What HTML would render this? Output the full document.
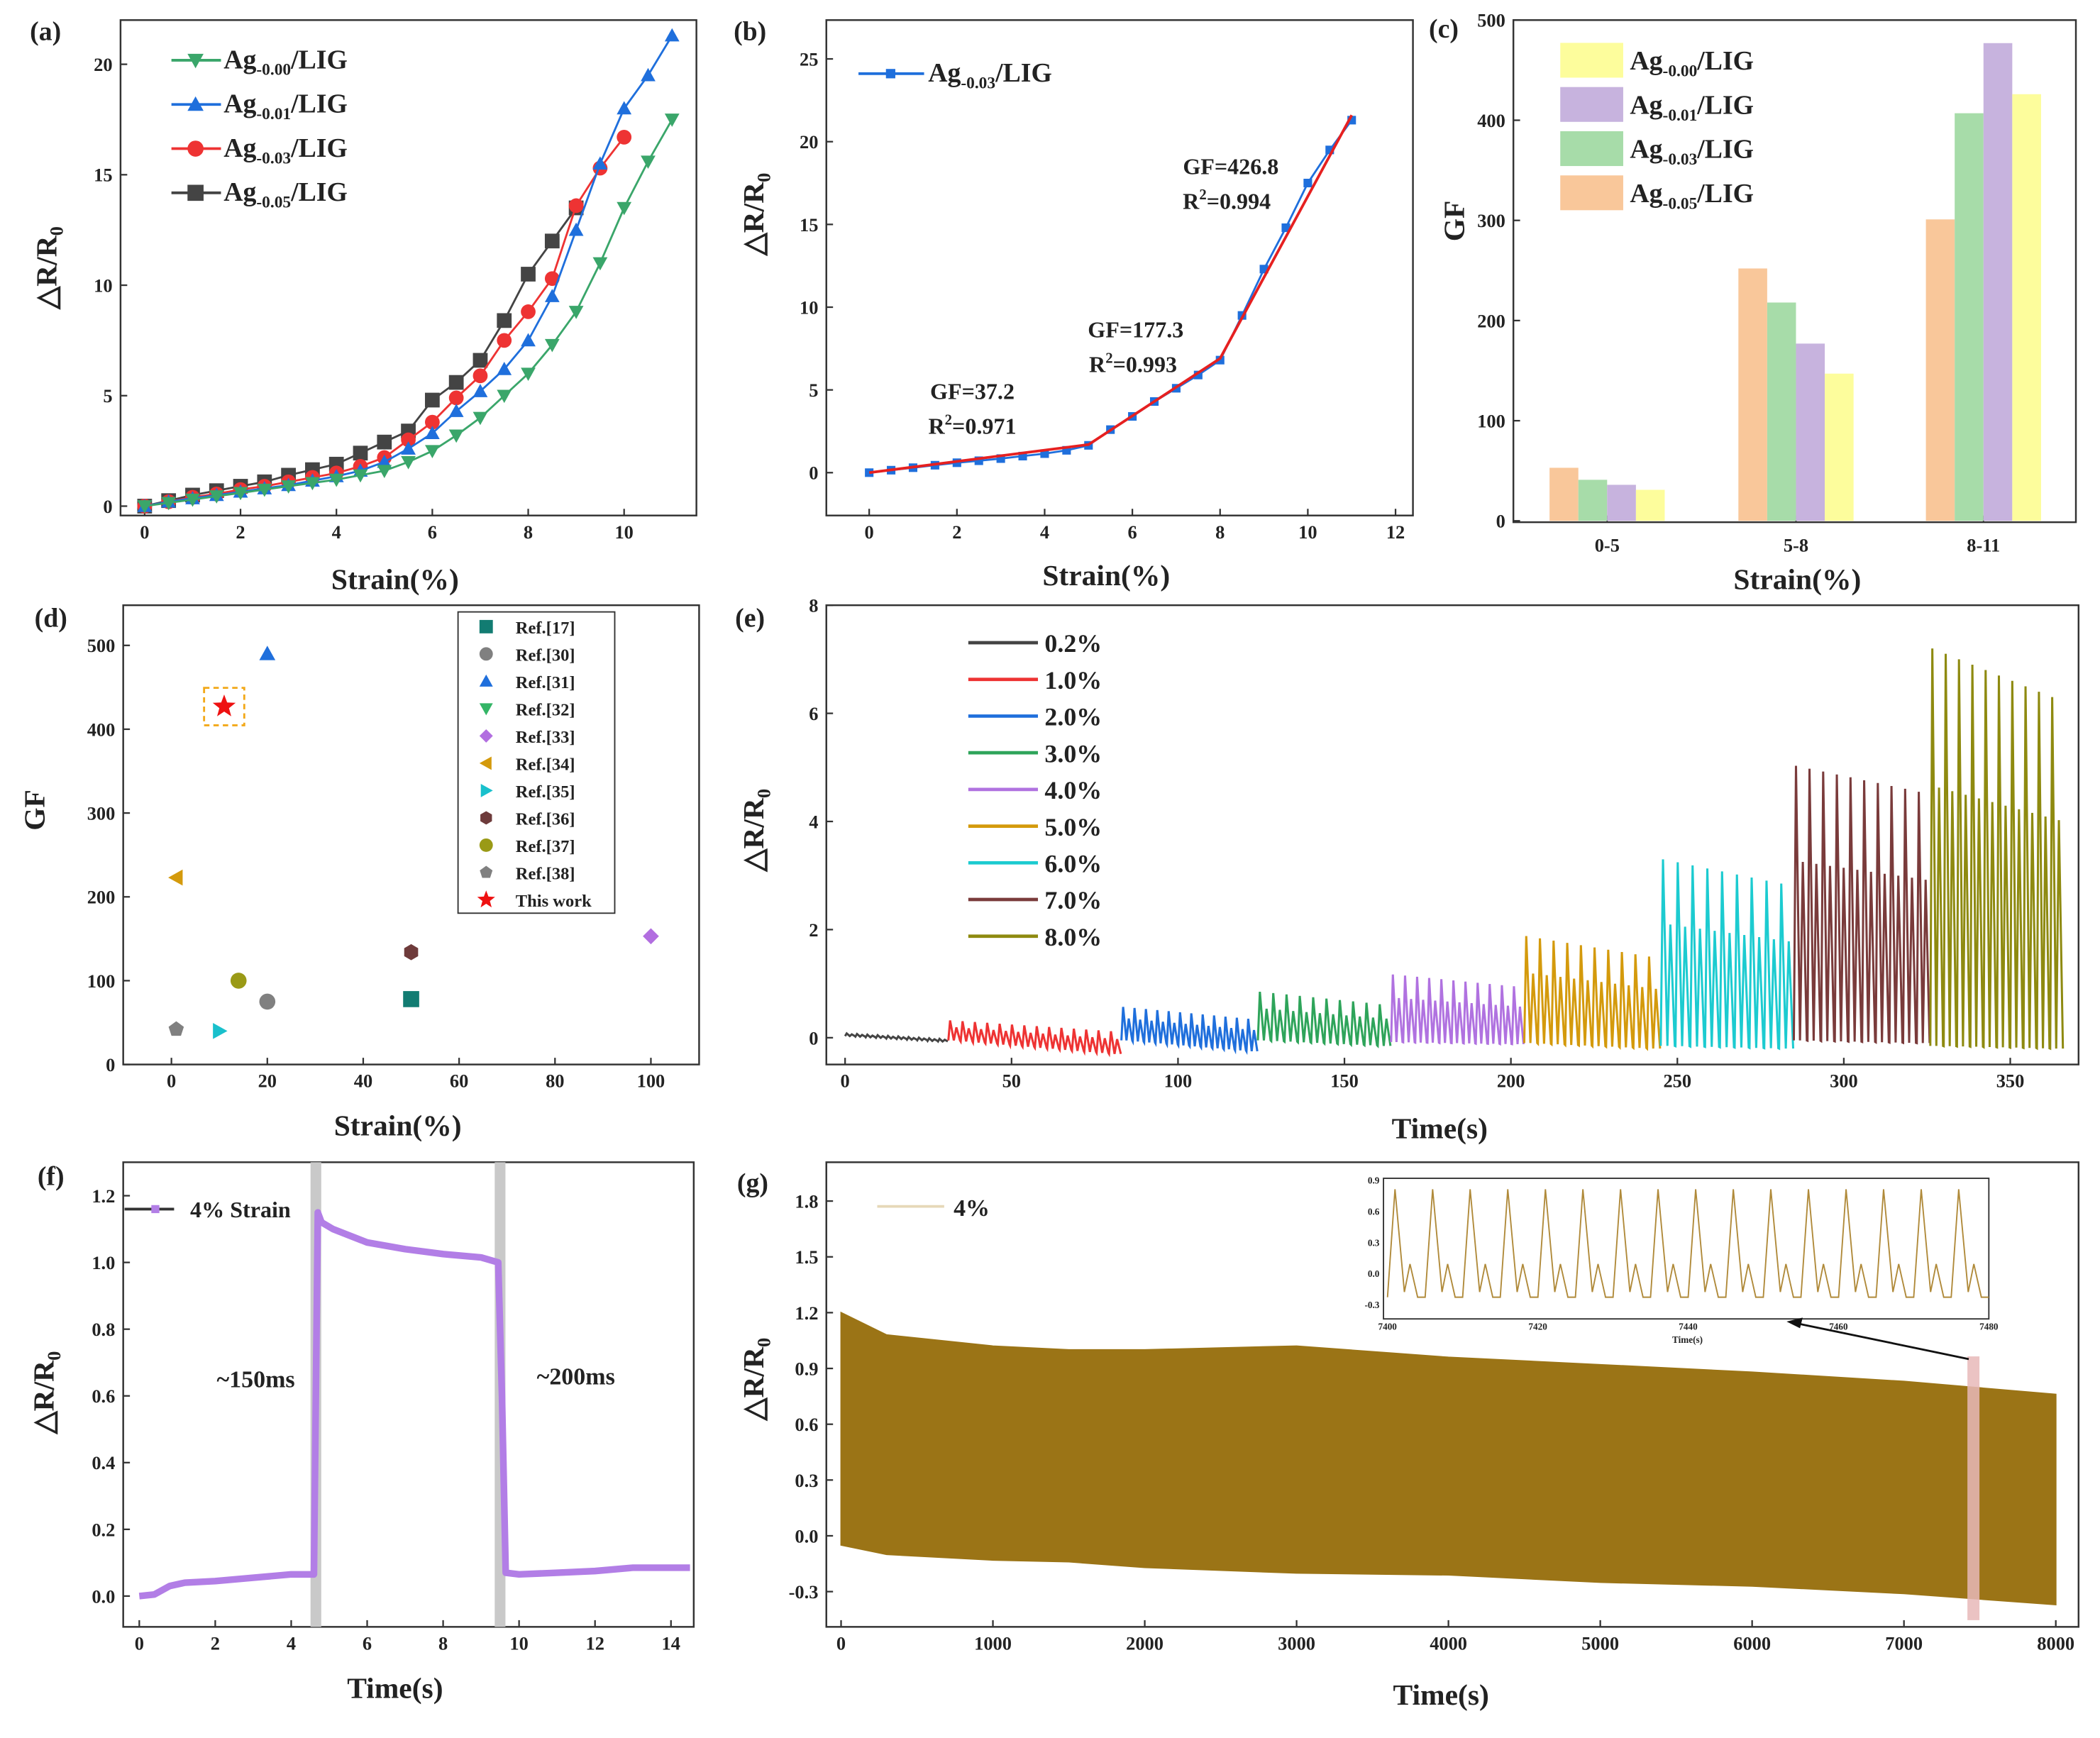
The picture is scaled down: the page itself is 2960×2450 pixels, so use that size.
<!DOCTYPE html>
<html><head><meta charset="utf-8"><style>
html,body{margin:0;padding:0;background:#fff}
svg{display:block}
text{font-family:"Liberation Serif",serif;font-weight:bold;fill:#222}
</style></head><body>
<svg id="fig" xmlns="http://www.w3.org/2000/svg" width="2960" height="2450" viewBox="0 0 1568 1298" preserveAspectRatio="none"></svg>
<script>
// ---------- DATA ----------
// (a)
const aStrain=[0,0.5,1,1.5,2,2.5,3,3.5,4,4.5,5,5.5,6,6.5,7,7.5,8,8.5,9,9.5,10,10.5,11];
const aAg000=[0,0.15,0.3,0.45,0.6,0.75,0.9,1.05,1.2,1.4,1.6,2.0,2.5,3.2,4.0,5.0,6.0,7.3,8.8,11.0,13.5,15.6,17.5];
const aAg001=[0,0.2,0.35,0.5,0.65,0.8,0.95,1.15,1.35,1.6,2.0,2.6,3.3,4.3,5.2,6.2,7.5,9.5,12.5,15.5,18.0,19.5,21.3];
const aAg003Strain=[0,0.5,1,1.5,2,2.5,3,3.5,4,4.5,5,5.5,6,6.5,7,7.5,8,8.5,9,9.5,10];
const aAg003=[0,0.2,0.4,0.55,0.75,0.9,1.1,1.3,1.5,1.8,2.2,3.0,3.8,4.9,5.9,7.5,8.8,10.3,13.6,15.3,16.7];
const aAg005Strain=[0,0.5,1,1.5,2,2.5,3,3.5,4,4.5,5,5.5,6,6.5,7,7.5,8,8.5,9];
const aAg005=[0,0.25,0.5,0.7,0.9,1.1,1.4,1.65,1.9,2.4,2.9,3.4,4.8,5.6,6.6,8.4,10.5,12.0,13.5];
// (b)
const bStrain=[0,0.5,1,1.5,2,2.5,3,3.5,4,4.5,5,5.5,6,6.5,7,7.5,8,8.5,9,9.5,10,10.5,11];
const bVal=[0,0.15,0.3,0.45,0.6,0.72,0.85,1.0,1.15,1.35,1.65,2.6,3.4,4.3,5.1,5.9,6.8,9.5,12.3,14.8,17.5,19.5,21.3];
const bFitX=[0,5,8,11];
const bFitY=[0,1.7,6.9,21.6];
// (c)
const cCats=["0-5","5-8","8-11"];
const cAg005=[53,252,301];
const cAg003=[41,218,407];
const cAg001=[36,177,477];
const cAg000=[31,147,426];
// (d)
const dRefs=["Ref.[17]","Ref.[30]","Ref.[31]","Ref.[32]","Ref.[33]","Ref.[34]","Ref.[35]","Ref.[36]","Ref.[37]","Ref.[38]","This work"];
const dStrain=[50,20,20,10,100,1,10,50,14,1,11];
const dGF=[78,75,490,-100,153,223,40,134,100,42,427];
// (e)
const eLabels=["0.2%","1.0%","2.0%","3.0%","4.0%","5.0%","6.0%","7.0%","8.0%"];
const eStart=[0,31,83,124,164,204,245,285,326];
const eEnd=[31,83,124,164,204,245,285,326,366];
const ePeakStart=[0.08,0.32,0.57,0.85,1.17,1.88,3.3,5.03,7.2];
const ePeakEnd=[-0.02,0.12,0.35,0.62,0.95,1.5,2.85,4.55,6.3];
const eTroughStart=[0.03,-0.05,-0.05,-0.05,-0.08,-0.1,-0.15,-0.05,-0.15];
const eTroughEnd=[-0.07,-0.3,-0.25,-0.15,-0.12,-0.2,-0.2,-0.1,-0.2];
const eCycles=[10,14,12,10,11,10,9,10,10];
// (f)
const fTime=[0,0.4,0.8,1.2,2,3,4,4.6,4.7,4.8,5.1,6,7,8,9,9.45,9.55,9.65,10,11,12,13,14,14.5];
const fVal=[0,0.005,0.03,0.04,0.045,0.055,0.065,0.065,1.15,1.12,1.1,1.06,1.04,1.025,1.015,1.0,0.6,0.07,0.065,0.07,0.075,0.085,0.085,0.085];
const fBands=[4.65,9.5];
// (g)
const gTime=[0,300,1000,1500,2000,3000,4000,5000,6000,7000,8000];
const gTop=[1.2,1.08,1.02,1.0,1.0,1.02,0.96,0.92,0.88,0.83,0.76];
const gBottom=[-0.05,-0.1,-0.13,-0.14,-0.17,-0.2,-0.21,-0.25,-0.27,-0.31,-0.37];
const gInsetPeak=0.82, gInsetTrough=-0.22, gInsetCycles=16;

// ---------- HELPERS ----------
const svg=document.getElementById('fig');
const NS='http://www.w3.org/2000/svg';
function mk(tag,attrs,name,parent){
  const el=document.createElementNS(NS,tag);
  for(const k in attrs) el.setAttribute(k,attrs[k]);
  
  
  (parent||svg).appendChild(el);
  return el;
}
function txt(x,y,s,size,name,anchor,parent,extra){
  const t=mk('text',Object.assign({x:x,y:y,'font-size':size,'text-anchor':anchor||'middle'},extra||{}),name,parent);
  t.textContent=s;return t;
}
function lin(a0,a1,p0,p1){return v=>p0+(v-a0)*(p1-p0)/(a1-a0);}
function frame(x0,y0,x1,y1,name){mk('rect',{x:x0,y:y0,width:x1-x0,height:y1-y0,fill:'none',stroke:'#333','stroke-width':1.3},name);}
function xTicks(vals,sx,yb,name,fs,lab){
  vals.forEach((v,i)=>{
    mk('line',{x1:sx(v),x2:sx(v),y1:yb,y2:yb-5,stroke:'#333','stroke-width':1.2},name+'-tick');
    txt(sx(v),yb+17,lab?lab[i]:String(v),fs||14,name+'-label');
  });
}
function yTicks(vals,sy,xl,name,fs,lab){
  vals.forEach((v,i)=>{
    mk('line',{x1:xl,x2:xl+5,y1:sy(v),y2:sy(v),stroke:'#333','stroke-width':1.2},name+'-tick');
    txt(xl-6,sy(v)+5,lab?lab[i]:String(v),fs||14,name+'-label','end');
  });
}
function ylabel(x,y,name){
  const g=mk('text',{x:0,y:0,'font-size':22,'text-anchor':'middle',transform:`translate(${x},${y}) rotate(-90)`},name);
  g.innerHTML='△R/R<tspan font-size="14" dy="5">0</tspan>';
}
function poly(xs,ys,sx,sy){return xs.map((x,i)=>`${i?'L':'M'}${sx(x).toFixed(1)},${sy(ys[i]).toFixed(1)}`).join('');}
function marker(shape,x,y,r,color,name,parent){
  let d;
  if(shape==='sq') return mk('rect',{x:x-r,y:y-r,width:2*r,height:2*r,fill:color},name,parent);
  if(shape==='ci') return mk('circle',{cx:x,cy:y,r:r,fill:color},name,parent);
  if(shape==='up') d=`M${x},${y-r}L${x+r},${y+r*0.8}L${x-r},${y+r*0.8}Z`;
  if(shape==='dn') d=`M${x},${y+r}L${x+r},${y-r*0.8}L${x-r},${y-r*0.8}Z`;
  if(shape==='lt') d=`M${x-r},${y}L${x+r*0.8},${y-r}L${x+r*0.8},${y+r}Z`;
  if(shape==='rt') d=`M${x+r},${y}L${x-r*0.8},${y-r}L${x-r*0.8},${y+r}Z`;
  if(shape==='di') d=`M${x},${y-r}L${x+r},${y}L${x},${y+r}L${x-r},${y}Z`;
  if(shape==='hx'){d='';for(let k=0;k<6;k++){const a=Math.PI/3*k+Math.PI/6;d+=(k?'L':'M')+(x+r*Math.cos(a))+','+(y+r*Math.sin(a));}d+='Z';}
  if(shape==='pt'){d='';for(let k=0;k<5;k++){const a=2*Math.PI/5*k-Math.PI/2;d+=(k?'L':'M')+(x+r*Math.cos(a))+','+(y+r*Math.sin(a));}d+='Z';}
  if(shape==='st'){d='';for(let k=0;k<10;k++){const a=Math.PI/5*k-Math.PI/2;const rr=k%2?r*0.42:r;d+=(k?'L':'M')+(x+rr*Math.cos(a))+','+(y+rr*Math.sin(a));}d+='Z';}
  return mk('path',{d:d,fill:color},name,parent);
}
function agLabel(x,y,sub,name,fs){
  const t=mk('text',{x:x,y:y,'font-size':fs||20,'text-anchor':'start'},name);
  t.innerHTML=`Ag<tspan font-size="${(fs||20)*0.62}" dy="5">${sub}</tspan><tspan dy="-5">/LIG</tspan>`;
}

// ---------- PANEL A ----------
(function(){
  const sx=lin(0,10,108,466), sy=lin(0,20,378,48);
  frame(90,15,520,385,'panel-a-frame');
  txt(34,30,'(a)',20,'panel-a-label');
  xTicks([0,2,4,6,8,10],sx,385,'a-x');
  yTicks([0,5,10,15,20],sy,90,'a-y');
  txt(295,440,'Strain(%)',22,'a-x-title');
  ylabel(42,200,'a-y-title');
  const series=[[aStrain,aAg000,'#3aa66a','dn','ag000'],[aStrain,aAg001,'#1f6fdc','up','ag001'],[aAg003Strain,aAg003,'#ee3333','ci','ag003'],[aAg005Strain,aAg005,'#444','sq','ag005']];
  series.slice().reverse().forEach(s=>{
    mk('path',{d:poly(s[0],s[1],sx,sy),fill:'none',stroke:s[2],'stroke-width':1.5},'a-line-'+s[4]);
    s[0].forEach((x,i)=>marker(s[3],sx(x),sy(s[1][i]),5.5,s[2],'a-point-'+s[4]));
  });
  const subs=['-0.00','-0.01','-0.03','-0.05'];
  series.forEach((s,i)=>{
    const y=45+i*33;
    mk('line',{x1:128,x2:165,y1:y,y2:y,stroke:s[2],'stroke-width':2},'a-legend-line');
    marker(s[3],146,y,6,s[2],'a-legend-marker');
    agLabel(167,y+6,subs[i],'a-legend-entry');
  });
})();

// ---------- PANEL B ----------
(function(){
  const sx=lin(0,12,649,1042), sy=lin(0,25,353,44);
  frame(617,15,1055,385,'panel-b-frame');
  txt(560,30,'(b)',20,'panel-b-label');
  xTicks([0,2,4,6,8,10,12],sx,385,'b-x');
  yTicks([0,5,10,15,20,25],sy,617,'b-y');
  txt(826,437,'Strain(%)',22,'b-x-title');
  ylabel(570,160,'b-y-title');
  mk('path',{d:poly(bStrain,bVal,sx,sy),fill:'none',stroke:'#1f6fdc','stroke-width':1.5},'b-data-line');
  bStrain.forEach((x,i)=>marker('sq',sx(x),sy(bVal[i]),3.2,'#1f6fdc','b-point'));
  mk('path',{d:poly(bFitX,bFitY,sx,sy),fill:'none',stroke:'#e62020','stroke-width':2},'b-fit-line');
  mk('line',{x1:641,x2:690,y1:55,y2:55,stroke:'#1f6fdc','stroke-width':2},'b-legend-line');
  marker('sq',665,55,3.5,'#1f6fdc','b-legend-marker');
  agLabel(693,61,'-0.03','b-legend-entry');
  txt(726,298,'GF=37.2',17,'b-annot-gf1');
  const r1=txt(726,324,'',17,'b-annot-r1');r1.innerHTML='R<tspan font-size="11" dy="-7">2</tspan><tspan dy="7">=0.971</tspan>';
  txt(848,252,'GF=177.3',17,'b-annot-gf2');
  const r2=txt(846,278,'',17,'b-annot-r2');r2.innerHTML='R<tspan font-size="11" dy="-7">2</tspan><tspan dy="7">=0.993</tspan>';
  txt(919,130,'GF=426.8',17,'b-annot-gf3');
  const r3=txt(916,156,'',17,'b-annot-r3');r3.innerHTML='R<tspan font-size="11" dy="-7">2</tspan><tspan dy="7">=0.994</tspan>';
})();

// ---------- PANEL C ----------
(function(){
  const sy=lin(0,500,389,15);
  const cx=[1200,1341,1481];
  frame(1130,15,1550,390,'panel-c-frame');
  txt(1078,28,'(c)',20,'panel-c-label');
  yTicks([0,100,200,300,400,500],sy,1130,'c-y');
  cCats.forEach((c,i)=>{mk('line',{x1:cx[i],x2:cx[i],y1:390,y2:385,stroke:'#333'},'c-x-tick');txt(cx[i],412,c,14,'c-x-label');});
  txt(1342,440,'Strain(%)',22,'c-x-title');
  const t=mk('text',{x:0,y:0,'font-size':22,'text-anchor':'middle',transform:'translate(1093,165) rotate(-90)'},'c-y-title');t.textContent='GF';
  const ser=[[cAg005,'#f9c79a','ag005'],[cAg003,'#a7dca9','ag003'],[cAg001,'#c7b3de','ag001'],[cAg000,'#fdfd9c','ag000']];
  const bw=21.5;
  ser.forEach((s,j)=>{
    s[0].forEach((v,i)=>{
      const x=cx[i]-2*bw+j*bw;
      mk('rect',{x:x,y:sy(v),width:bw,height:sy(0)-sy(v),fill:s[1]},'c-bar-'+s[2]+'-'+cCats[i]);
    });
  });
  const leg=[[ '#fdfd9c','-0.00'],['#c7b3de','-0.01'],['#a7dca9','-0.03'],['#f9c79a','-0.05']];
  leg.forEach((l,i)=>{
    const y=45+i*33;
    mk('rect',{x:1165,y:y-13,width:47,height:26,fill:l[0]},'c-legend-swatch');
    agLabel(1217,y+7,l[1],'c-legend-entry');
  });
})();

// ---------- PANEL D ----------
(function(){
  const sx=lin(0,100,128,486), sy=lin(0,500,795,482);
  frame(92,452,522,795,'panel-d-frame');
  txt(38,468,'(d)',20,'panel-d-label');
  xTicks([0,20,40,60,80,100],sx,795,'d-x');
  yTicks([0,100,200,300,400,500],sy,92,'d-y');
  txt(297,848,'Strain(%)',22,'d-x-title');
  const t=mk('text',{x:0,y:0,'font-size':22,'text-anchor':'middle',transform:'translate(33,605) rotate(-90)'},'d-y-title');t.textContent='GF';
  const shapes=['sq','ci','up','dn','di','lt','rt','hx','ci','pt','st'];
  const cols=['#127c72','#808080','#1f6fdc','#33b566','#b26ee0','#d49a0c','#19c0cc','#6e3b3b','#9a9a16','#808080','#ee1111'];
  mk('rect',{x:sx(dStrain[10])-15,y:sy(dGF[10])-14,width:30,height:28,fill:'none',stroke:'#f2a818','stroke-width':1.5,'stroke-dasharray':'4,3'},'d-highlight-box');
  dRefs.forEach((r,i)=>{
    if(dGF[i]>=0) marker(shapes[i],sx(dStrain[i]),sy(dGF[i]),i===10?9:6,cols[i],'d-point-'+r);
  });
  mk('rect',{x:342,y:457,width:117,height:225,fill:'#fff',stroke:'#333','stroke-width':1},'d-legend-box');
  dRefs.forEach((r,i)=>{
    const y=468+i*20.4;
    marker(shapes[i],363,y,i===10?7:5,cols[i],'d-legend-marker');
    txt(385,y+5,r,13,'d-legend-entry','start');
  });
})();

// ---------- PANEL E ----------
(function(){
  const sx=lin(0,350,631,1501), sy=lin(0,8,775,452);
  frame(617,452,1552,795,'panel-e-frame');
  txt(560,468,'(e)',20,'panel-e-label');
  xTicks([0,50,100,150,200,250,300,350],sx,795,'e-x');
  yTicks([0,2,4,6,8],sy,617,'e-y');
  txt(1075,850,'Time(s)',22,'e-x-title');
  ylabel(570,620,'e-y-title');
  const cols=['#444','#ee3333','#1f6fdc','#2ea45a','#b072e0','#d49a0c','#1ccbd0','#7a3b3b','#8e8a10'];
  eLabels.forEach((lab,s)=>{
    const n=eCycles[s], T=(eEnd[s]-eStart[s])/n;
    let d='';
    for(let k=0;k<n;k++){
      const f=k/(n-1||1);
      const pk=ePeakStart[s]+(ePeakEnd[s]-ePeakStart[s])*f;
      const tr=eTroughStart[s]+(eTroughEnd[s]-eTroughStart[s])*f;
      const sec=tr+(pk-tr)*0.65;
      const t0=eStart[s]+k*T;
      const pts=[[t0,tr],[t0+T*0.15,pk],[t0+T*0.45,tr],[t0+T*0.65,sec],[t0+T*0.95,tr]];
      pts.forEach((p,j)=>{d+=(d?'L':'M')+sx(p[0]).toFixed(1)+','+sy(p[1]).toFixed(1);});
    }
    mk('path',{d:d,fill:'none',stroke:cols[s],'stroke-width':1.6},'e-series-'+lab);
    const y=480+s*27.4;
    mk('line',{x1:723,x2:775,y1:y,y2:y,stroke:cols[s],'stroke-width':2.5},'e-legend-line');
    txt(780,y+7,lab,19,'e-legend-entry','start');
  });
})();

// ---------- PANEL F ----------
(function(){
  const sx=lin(0,14,104,501), sy=lin(0,1.2,1192,893);
  frame(92,868,518,1215,'panel-f-frame');
  txt(38,885,'(f)',20,'panel-f-label');
  xTicks([0,2,4,6,8,10,12,14],sx,1215,'f-x');
  yTicks([0,0.2,0.4,0.6,0.8,1.0,1.2],sy,92,'f-y',14,['0.0','0.2','0.4','0.6','0.8','1.0','1.2']);
  txt(295,1268,'Time(s)',22,'f-x-title');
  ylabel(40,1040,'f-y-title');
  fBands.forEach((b,i)=>mk('rect',{x:sx(b)-4,y:868,width:8,height:347,fill:'#c9c9c9'},'f-response-band-'+(i+1)));
  mk('path',{d:poly(fTime,fVal,sx,sy),fill:'none',stroke:'#b27ee6','stroke-width':5,'stroke-linejoin':'round'},'f-data-line');
  mk('line',{x1:93,x2:130,y1:903,y2:903,stroke:'#333','stroke-width':2},'f-legend-line');
  marker('sq',116,903,3,'#b27ee6','f-legend-marker');
  txt(142,909,'4% Strain',17,'f-legend-entry','start');
  txt(191,1036,'~150ms',18,'f-annot-150ms');
  txt(430,1034,'~200ms',18,'f-annot-200ms');
})();

// ---------- PANEL G ----------
(function(){
  const sx=lin(0,8000,628,1535), sy=lin(0,1.8,1147,897);
  frame(617,868,1552,1215,'panel-g-frame');
  txt(562,890,'(g)',20,'panel-g-label');
  xTicks([0,1000,2000,3000,4000,5000,6000,7000,8000],sx,1215,'g-x');
  yTicks([-0.3,0,0.3,0.6,0.9,1.2,1.5,1.8],sy,617,'g-y',14,['-0.3','0.0','0.3','0.6','0.9','1.2','1.5','1.8']);
  txt(1076,1273,'Time(s)',22,'g-x-title');
  ylabel(570,1030,'g-y-title');
  let d=poly(gTime,gTop,sx,sy);
  for(let i=gTime.length-1;i>=0;i--) d+='L'+sx(gTime[i]).toFixed(1)+','+sy(gBottom[i]).toFixed(1);
  mk('path',{d:d+'Z',fill:'#9b7416',stroke:'#9b7416','stroke-width':1},'g-data-band');
  mk('rect',{x:1469,y:1013,width:9,height:197,fill:'#e8b8b8',opacity:0.85},'g-zoom-highlight');
  mk('line',{x1:655,x2:705,y1:901,y2:901,stroke:'#e6d8b8','stroke-width':2},'g-legend-line');
  txt(712,908,'4%',18,'g-legend-entry','start');
  // inset
  const ix=lin(7400,7480,1036,1485), iy=lin(-0.3,0.9,975,882);
  mk('rect',{x:1033,y:880,width:452,height:105,fill:'#fff',stroke:'#333','stroke-width':1},'g-inset-frame');
  let id='';
  const P=80/gInsetCycles;
  for(let k=0;k<gInsetCycles;k++){
    const t0=7400+k*P;
    [[t0,gInsetTrough],[t0+P*0.2,gInsetPeak],[t0+P*0.45,gInsetTrough+0.05],[t0+P*0.6,0.1],[t0+P*0.8,gInsetTrough],[t0+P,gInsetTrough]].forEach(p=>{id+=(id?'L':'M')+ix(p[0]).toFixed(1)+','+iy(p[1]).toFixed(1);});
  }
  mk('path',{d:id,fill:'none',stroke:'#b08a3a','stroke-width':1},'g-inset-line');
  [7400,7420,7440,7460,7480].forEach(v=>txt(ix(v),993,String(v),7,'g-inset-x-label'));
  [-0.3,0,0.3,0.6,0.9].forEach((v,i)=>txt(1030,iy(v)+2,['-0.3','0.0','0.3','0.6','0.9'][i],7,'g-inset-y-label','end'));
  txt(1260,1003,'Time(s)',7,'g-inset-x-title');
  mk('line',{x1:1470,x2:1340,y1:1015,y2:988,stroke:'#111','stroke-width':1.5},'g-arrow-line');
  mk('path',{d:'M1334,987L1346,984L1344,992Z',fill:'#111'},'g-arrow-head');
})();
</script>
</body></html>
